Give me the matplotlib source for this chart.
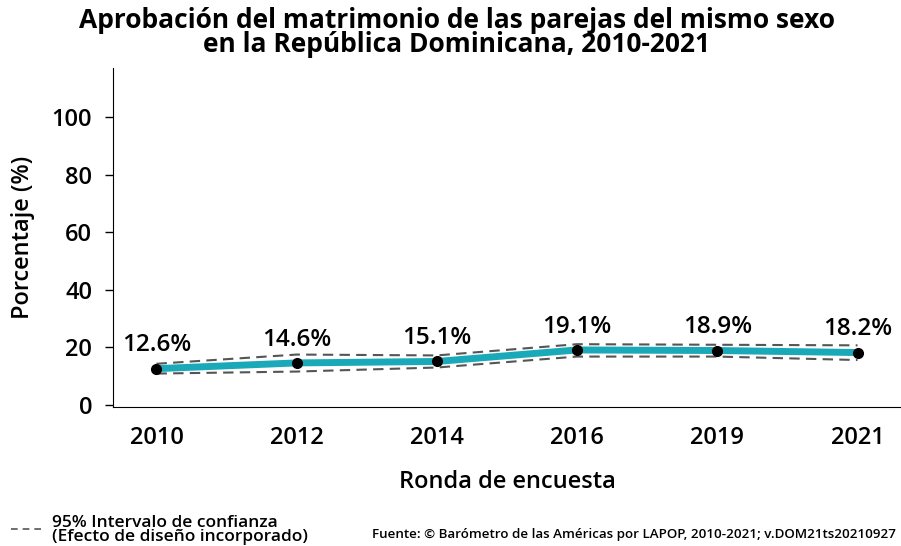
import os
import matplotlib.pyplot as plt
from matplotlib import font_manager as fm
import numpy as np

years = ['2010', '2012', '2014', '2016', '2019', '2021']
approval = [12.6, 14.6, 15.1, 19.1, 18.9, 18.2]
ci_low = [10.9, 11.6, 13.0, 16.8, 16.8, 15.6]
ci_high = [14.3, 17.5, 17.2, 21.1, 20.9, 20.7]


# Open Sans: prefer the static normal-width files (matplotlib picks the condensed ones otherwise)
def open_sans(style, size):
    for f in fm.fontManager.ttflist:
        base = os.path.basename(f.fname)
        if 'OpenSans' in base and 'Condensed' not in base and base.split('.')[0].endswith('-' + style):
            return fm.FontProperties(fname=f.fname, size=size)
    return fm.FontProperties(family='Open Sans', weight=style.lower(), size=size)


x = np.arange(len(years))

fig = plt.figure(figsize=(9.01, 5.46), dpi=100)
ax = fig.add_axes([0.1254, 0.2546, 0.8746, 0.621])

ax.plot(x, ci_high, color='#555555', linestyle=(0, (5, 3)), linewidth=1.5)
ax.plot(x, ci_low, color='#555555', linestyle=(0, (5, 3)), linewidth=1.5)
ax.plot(x, approval, color='#1AA9B8', linewidth=5, solid_capstyle='round', zorder=3)
ax.plot(x, approval, 'o', color='black', markersize=7, zorder=4)

for xi, v in zip(x, approval):
    ax.annotate(f'{v:.1f}%', (xi, v), xytext=(0, 12.5), textcoords='offset points',
                ha='center', va='baseline', fontproperties=open_sans('SemiBold', 17.5))

ax.set_xlim(-0.31, 5.31)
ax.set_ylim(-0.7, 117)
ax.set_yticks([0, 20, 40, 60, 80, 100])
ax.set_xticks(x)
ax.set_xticklabels(years)
ax.tick_params(axis='both', width=1, length=6, colors='black')
ax.tick_params(axis='y', pad=9)
ax.tick_params(axis='x', length=0, pad=14)
for lab in ax.get_xticklabels() + ax.get_yticklabels():
    lab.set_fontproperties(open_sans('SemiBold', 17))
ax.spines['top'].set_visible(False)
ax.spines['right'].set_visible(False)
ax.set_xlabel('Ronda de encuesta', fontproperties=open_sans('SemiBold', 17), labelpad=14)
ax.set_ylabel('Porcentaje (%)', fontproperties=open_sans('SemiBold', 17), labelpad=12)

fig.text(0.507, 0.988, 'Aprobación del matrimonio de las parejas del mismo sexo\nen la República Dominicana, 2010-2021',
         ha='center', va='top', fontproperties=open_sans('Bold', 19), linespacing=0.88)

fig.lines.append(plt.Line2D([0.012, 0.05], [0.032, 0.032], transform=fig.transFigure,
                            color='#555555', linestyle=(0, (4, 3)), linewidth=1.2))
fig.text(0.058, 0.002, '95% Intervalo de confianza\n(Efecto de diseño incorporado)',
         ha='left', va='bottom', fontproperties=open_sans('SemiBold', 12.5), linespacing=0.85)
fig.text(0.413, 0.01, 'Fuente: © Barómetro de las Américas por LAPOP, 2010-2021; v.DOM21ts20210927',
         ha='left', va='bottom', fontproperties=open_sans('SemiBold', 9.6))

fig.savefig('out.png', dpi=100)
